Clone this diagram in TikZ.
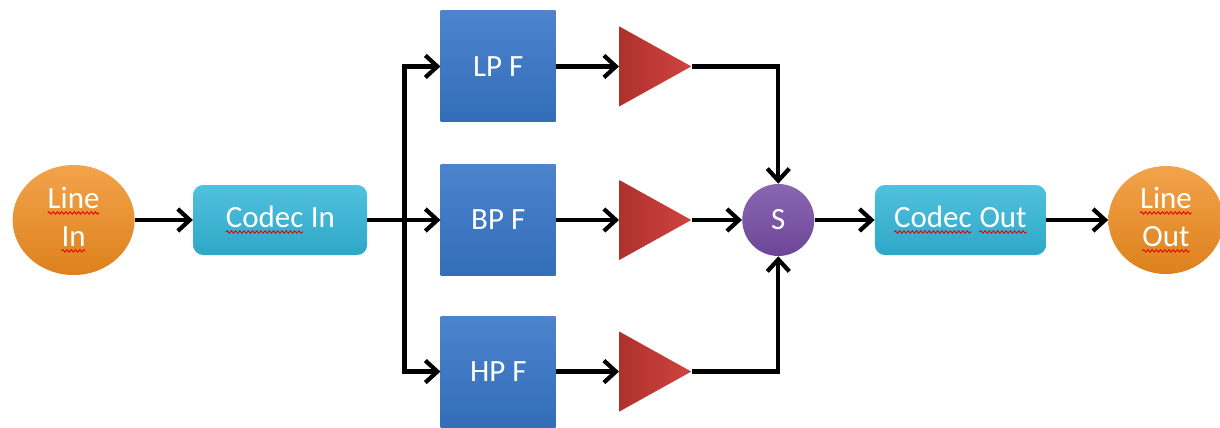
\documentclass[tikz,border=0pt]{standalone}
\usepackage{fontspec}
\setmainfont{Carlito}
\usepackage{tikz}
\usetikzlibrary{positioning}
\usetikzlibrary{arrows.meta}
\usetikzlibrary{shapes.geometric}
\usetikzlibrary{decorations.pathmorphing}
\usepackage{xcolor}

\definecolor{portorange}{RGB}{240,140,30}
\definecolor{codeccyan}{RGB}{50,182,216}
\definecolor{filtblue}{RGB}{56,118,200}
\definecolor{ampred}{RGB}{205,58,52}
\definecolor{sumpurple}{RGB}{118,76,164}

% red wavy spell-check underline
\newcommand{\squig}[1]{\tikz[baseline=(w.base), sharp corners]{\node[shape=rectangle, minimum width=0pt, minimum height=0pt,
    inner sep=0pt, outer sep=0pt, text=white] (w) {#1};
  \draw[red!90!black, line width=0.6pt, sharp corners, decorate, decoration={snake, amplitude=0.9pt, segment length=3pt}]
    ([yshift=-3pt]w.base west) -- ([yshift=-3pt]w.base east);}}

\begin{document}
\begin{tikzpicture}[node distance=1.5cm, auto,
    font=\fontsize{22}{27}\selectfont,
    port/.style={ellipse, minimum width=30.5mm, minimum height=27.5mm, inner sep=0pt,
      top color=portorange!80!white, bottom color=portorange!92!black, draw=none,
      text=white, align=center},
    codec/.style={rectangle, rounded corners=2.5mm, minimum width=43.5mm, minimum height=17.5mm,
      top color=codeccyan!85!white, bottom color=codeccyan!92!black, text=white},
    filt/.style={rectangle, minimum width=28.75mm, minimum height=27.75mm,
      top color=filtblue!90!white, bottom color=filtblue!92!black, text=white},
    amp/.style={isosceles triangle, isosceles triangle stretches, inner sep=0pt,
      minimum width=20mm, minimum height=18mm,
      left color=ampred!85!black, right color=ampred!95!white},
    summer/.style={circle, minimum size=18mm, inner sep=0pt,
      top color=sumpurple!85!white, bottom color=sumpurple!92!black, text=white},
    arr/.style={-{Straight Barb[length=3mm,width=5.5mm]}, line width=3pt}]

  \useasboundingbox (0,0) rectangle (305mm,-106.75mm);

  \node (linein) [port] at (18.4mm,-55mm) {\squig{Line}\\\squig{In}};
  \node (codecin) [codec, right=14.5mm of linein] {\squig{Codec} In};
  \coordinate [right=9.25mm of codecin] (split);

  \node (bpf) [filt, right=18.25mm of codecin] {BP F};
  \node (lpf) [filt, above=10.5mm of bpf] {LP F};
  \node (hpf) [filt, below=10mm of bpf] {HP F};

  \node (amp1) [amp, right=15.75mm of lpf] {};
  \node (amp2) [amp, right=15.75mm of bpf] {};
  \node (amp3) [amp, right=15.75mm of hpf] {};

  \node (sum) [summer, right=12.5mm of amp2] {S};
  \node (codecout) [codec, right=15mm of sum, minimum width=42.75mm] {\squig{Codec} \squig{Out}};
  \node (lineout) [port, right=15.5mm of codecout, minimum width=28.75mm, minimum height=27mm] {\squig{Line}\\\squig{Out}};

  \draw[arr] (linein) -- (codecin);
  \draw[arr] (codecin) -- (bpf);
  \draw[arr] (split) |- (lpf);
  \draw[arr] (split) |- (hpf);

  \draw[arr] (lpf) -- (amp1);
  \draw[arr] (bpf) -- (amp2);
  \draw[arr] (hpf) -- (amp3);

  \draw[arr] (amp1) -| (sum);
  \draw[arr] (amp2) -- (sum);
  \draw[arr] (amp3) -| (sum);

  \draw[arr] (sum) -- (codecout);
  \draw[arr] (codecout) -- (lineout);
\end{tikzpicture}
\end{document}
